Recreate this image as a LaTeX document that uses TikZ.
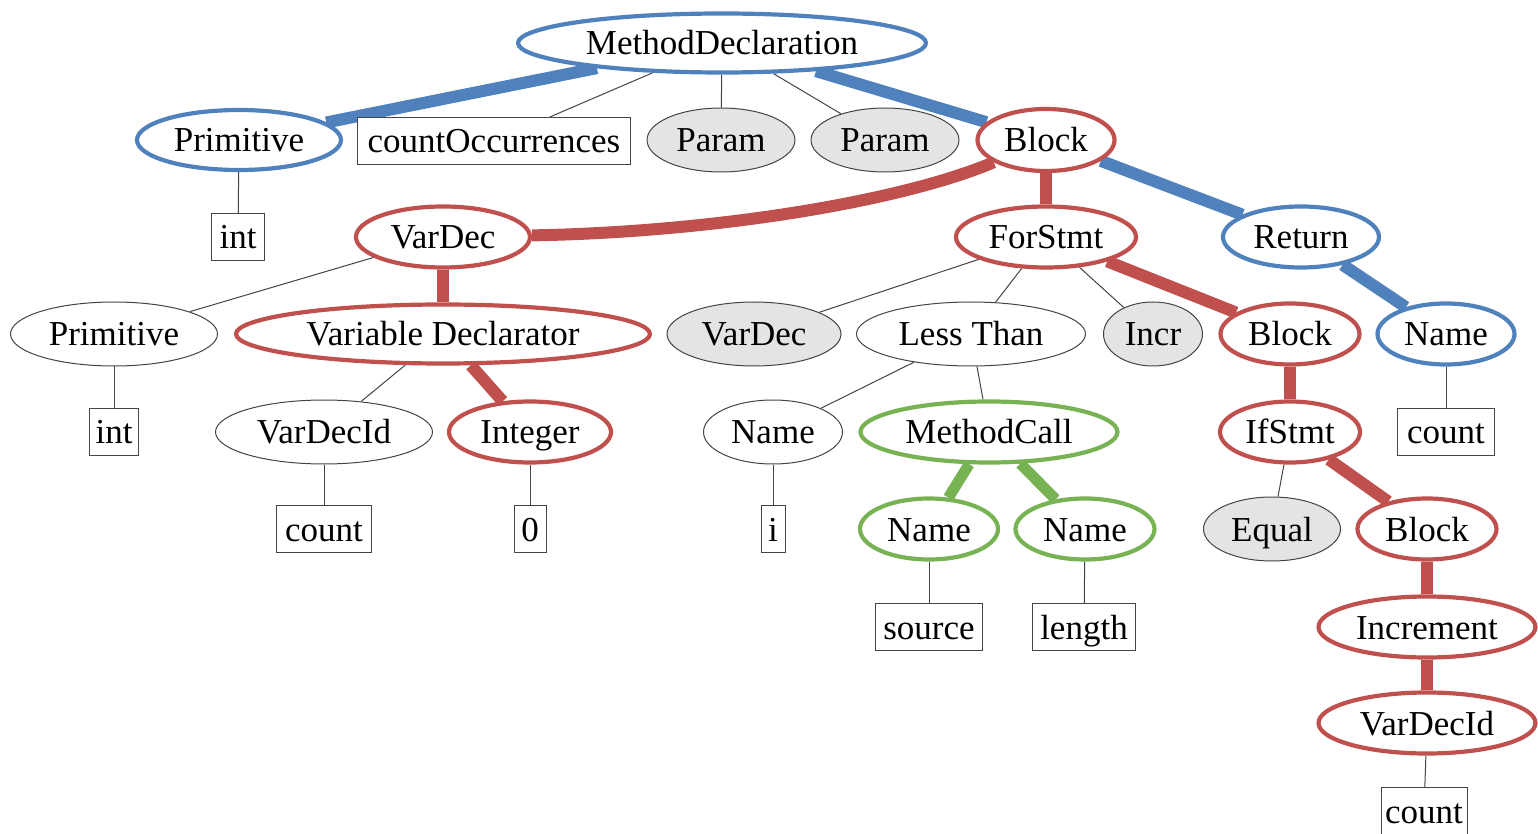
\documentclass[tikz,border=0pt]{standalone}
\usepackage{fontspec}
\setmainfont{Liberation Serif}
\usetikzlibrary{shapes.geometric,backgrounds}
\definecolor{myblue}{HTML}{4F81BD}
\definecolor{myred}{HTML}{C0504D}
\definecolor{mygreen}{HTML}{77B353}
\definecolor{mygrayfill}{HTML}{E4E4E4}
\definecolor{mythin}{HTML}{444444}
\begin{document}
\begin{tikzpicture}[x=0.5pt,y=-0.5pt,
  every node/.style={font=\fontsize{17.5pt}{20pt}\selectfont, text=black, text height=12pt, text depth=0pt},
  ell/.style={ellipse, inner sep=0pt, fill=white},
  bluen/.style={ell, draw=myblue, line width=2.1pt},
  redn/.style={ell, draw=myred, line width=2.1pt},
  greenn/.style={ell, draw=mygreen, line width=2.1pt},
  plainn/.style={ell, draw=mythin, line width=0.5pt},
  grayn/.style={ell, draw=mythin, line width=0.5pt, fill=mygrayfill},
  leaf/.style={rectangle, draw=mythin, line width=0.5pt, fill=white, inner sep=0pt, minimum height=23.5pt},
  thin/.style={draw=mythin, line width=0.5pt},
  thickb/.style={draw=myblue, line width=6pt},
  thickr/.style={draw=myred, line width=6pt},
  thickg/.style={draw=mygreen, line width=5.5pt}]
\useasboundingbox (0,0) rectangle (1538,834);
% level 0
\node[bluen, minimum width=204pt, minimum height=29.5pt] (md) at (722,43) {MethodDeclaration};
% level 1
\node[bluen, minimum width=102pt, minimum height=30pt] (prim1) at (239,140) {Primitive};
\node[leaf, minimum width=136.5pt] (co) at (494,141) {countOccurrences};
\node[grayn, minimum width=74pt, minimum height=32pt] (par1) at (721,140) {Param};
\node[grayn, minimum width=74pt, minimum height=32pt] (par2) at (885,140) {Param};
\node[redn, minimum width=68.5pt, minimum height=31pt] (blk1) at (1046,140) {Block};
% level 2
\node[leaf, minimum width=26.5pt] (int1) at (238,237) {int};
\node[redn, minimum width=87pt, minimum height=30.5pt] (vdec) at (443,237) {VarDec};
\node[redn, minimum width=90pt, minimum height=30.5pt] (for) at (1046,237) {ForStmt};
\node[bluen, minimum width=78pt, minimum height=30.5pt] (ret) at (1301,237) {Return};
% level 3
\node[plainn, minimum width=103.5pt, minimum height=32pt] (prim2) at (114,334) {Primitive};
\node[redn, minimum width=207pt, minimum height=29.5pt] (vd) at (443,334) {Variable Declarator};
\node[grayn, minimum width=87pt, minimum height=32pt] (vdec2) at (754,334) {VarDec};
\node[plainn, minimum width=114.5pt, minimum height=32pt] (lt) at (971,334) {Less Than};
\node[grayn, minimum width=49.5pt, minimum height=32pt] (incr) at (1153,334) {Incr};
\node[redn, minimum width=69.5pt, minimum height=30.5pt] (blk2) at (1290,334) {Block};
\node[bluen, minimum width=68.5pt, minimum height=30.5pt] (nm1) at (1446,334) {Name};
% level 4
\node[leaf, minimum width=24.5pt] (int2) at (114,432) {int};
\node[plainn, minimum width=108.5pt, minimum height=32pt] (vdi1) at (324,432) {VarDecId};
\node[redn, minimum width=81pt, minimum height=30.5pt] (integ) at (530,432) {Integer};
\node[plainn, minimum width=69.5pt, minimum height=32pt] (nm2) at (773,432) {Name};
\node[greenn, minimum width=128.5pt, minimum height=30.5pt] (mc) at (989,432) {MethodCall};
\node[redn, minimum width=70pt, minimum height=30.5pt] (if) at (1290,432) {IfStmt};
\node[leaf, minimum width=48.5pt] (cnt1) at (1446,432) {count};
% level 5
\node[leaf, minimum width=47.5pt] (cnt2) at (324,529) {count};
\node[leaf, minimum width=16pt] (zero) at (530,529) {0};
\node[leaf, minimum width=12pt] (ii) at (773,529) {i};
\node[greenn, minimum width=69pt, minimum height=30.5pt] (nm3) at (929,529) {Name};
\node[greenn, minimum width=69.5pt, minimum height=30.5pt] (nm4) at (1085,529) {Name};
\node[grayn, minimum width=68.5pt, minimum height=32pt] (eq) at (1272,529) {Equal};
\node[redn, minimum width=69.5pt, minimum height=30.5pt] (blk3) at (1427,529) {Block};
% level 6
\node[leaf, minimum width=53.5pt] (src) at (929,627) {source};
\node[leaf, minimum width=51.5pt] (len) at (1084,627) {length};
\node[redn, minimum width=108.5pt, minimum height=30.5pt] (inc) at (1427,627) {Increment};
% level 7
\node[redn, minimum width=108.5pt, minimum height=30.5pt] (vdi2) at (1427,723) {VarDecId};
% level 8
\node[leaf, minimum width=43pt] (cnt3) at (1424,811) {count};
\begin{pgfonlayer}{background}
\draw[thickb] (md) -- (prim1);
\draw[thin] (md) -- (co);
\draw[thin] (md) -- (par1);
\draw[thin] (md) -- (par2);
\draw[thickb] (md) -- (blk1);
\draw[thin] (prim1) -- (int1);
\draw[thickr] (blk1) .. controls (905,200) and (720,232) .. (vdec);
\draw[thickr] (blk1) -- (for);
\draw[thickb] (blk1) -- (ret);
\draw[thin] (vdec) -- (prim2);
\draw[thickr] (vdec) -- (vd);
\draw[thin] (for) -- (vdec2);
\draw[thin] (for) -- (lt);
\draw[thin] (for) -- (incr);
\draw[thickr] (for) -- (blk2);
\draw[thickb] (ret) -- (nm1);
\draw[thin] (prim2) -- (int2);
\draw[thin] (vd) -- (vdi1);
\draw[thickr] (vd) -- (integ);
\draw[thin] (lt) -- (nm2);
\draw[thin] (lt) -- (mc);
\draw[thickr] (blk2) -- (if);
\draw[thin] (nm1) -- (cnt1);
\draw[thin] (vdi1) -- (cnt2);
\draw[thin] (integ) -- (zero);
\draw[thin] (nm2) -- (ii);
\draw[thickg] (mc) -- (nm3);
\draw[thickg] (mc) -- (nm4);
\draw[thin] (if) -- (eq);
\draw[thickr] (if) -- (blk3);
\draw[thin] (nm3) -- (src);
\draw[thin] (nm4) -- (len);
\draw[thickr] (blk3) -- (inc);
\draw[thickr] (inc) -- (vdi2);
\draw[thin] (vdi2) -- (cnt3);
\end{pgfonlayer}
\end{tikzpicture}
\end{document}
